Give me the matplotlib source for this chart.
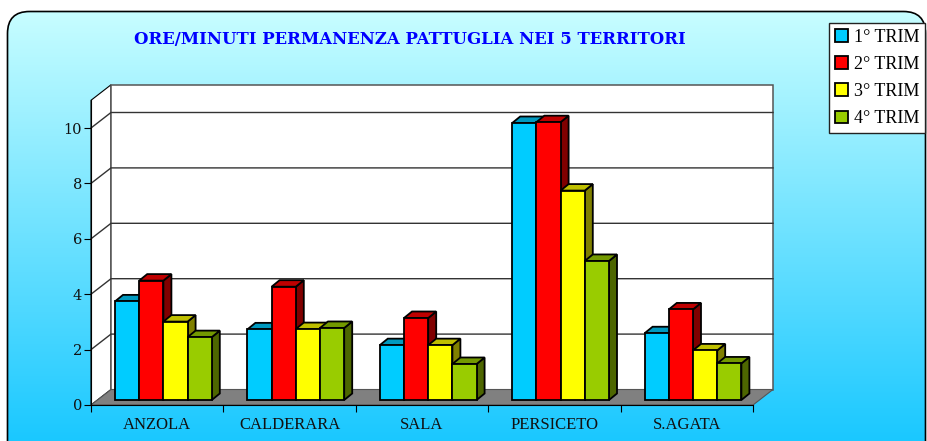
import matplotlib
matplotlib.use('Agg')
import matplotlib.pyplot as plt
import numpy as np
from matplotlib.colors import LinearSegmentedColormap
from matplotlib.patches import FancyBboxPatch, Polygon, Patch

categories = ['ANZOLA', 'CALDERARA', 'SALA', 'PERSICETO', 'S.AGATA']
trim_1 = [3.56, 2.55, 1.98, 10.0, 2.41]
trim_2 = [4.31, 4.09, 2.96, 10.03, 3.27]
trim_3 = [2.83, 2.56, 1.98, 7.56, 1.79]
trim_4 = [2.27, 2.6, 1.3, 5.02, 1.32]
series_names = ['1° TRIM', '2° TRIM', '3° TRIM', '4° TRIM']
y_ticks = [0, 2, 4, 6, 8, 10]

colors = ['#00ccff', '#ff0000', '#ffff00', '#99cc00']
tops = ['#0099bf', '#bf0000', '#bfbf00', '#739900']
sides = ['#006680', '#800000', '#808000', '#4d6600']

# depth of the fake 3d, in data units
WALL_DX = 20 / 132.4
WALL_DY = 15.5 / 27.7
BAR_DX = 8 / 132.4
BAR_DY = 6.5 / 27.7
BAR_W = 24.2 / 132.4
BAR_X0 = 24 / 132.4
BASE_DY = 5 / 27.7
Y_MAX = 11

serif = 'Liberation Serif'


def draw_background(fig):
    bg = fig.add_axes([0, 0, 1, 1], zorder=0)
    bg.set_xlim(0, 927)
    bg.set_ylim(441, 0)
    bg.axis('off')
    cmap = LinearSegmentedColormap.from_list('bg', ['#ccffff', '#1ac8ff'])
    grad = np.linspace(0, 1, 256).reshape(-1, 1)
    img = bg.imshow(grad, cmap=cmap, extent=[0, 927, 441, 0], aspect='auto')
    box = FancyBboxPatch((29, 33), 875, 430,
                         boxstyle='round,pad=0,rounding_size=22',
                         mutation_scale=1, fc='none', ec='black', lw=1.2)
    box.set_boxstyle('round', pad=21.5, rounding_size=22)
    bg.add_patch(box)
    img.set_clip_path(box)


def draw_walls(ax):
    n = len(categories)
    ax.add_patch(Polygon([(0, 0), (WALL_DX, WALL_DY), (WALL_DX, Y_MAX + WALL_DY), (0, Y_MAX)],
                         fc='white', ec='black', lw=0.8, clip_on=False, zorder=1))
    ax.add_patch(Polygon([(WALL_DX, WALL_DY), (n + WALL_DX, WALL_DY),
                          (n + WALL_DX, Y_MAX + WALL_DY), (WALL_DX, Y_MAX + WALL_DY)],
                         fc='white', ec='#555555', lw=1.1, clip_on=False, zorder=1))
    ax.add_patch(Polygon([(0, 0), (n, 0), (n + WALL_DX, WALL_DY), (WALL_DX, WALL_DY)],
                         fc='#808080', ec='#555555', lw=0.8, clip_on=False, zorder=1))
    for v in y_ticks[1:]:
        ax.plot([0, WALL_DX, n + WALL_DX], [v, v + WALL_DY, v + WALL_DY], color='#333333',
                lw=1.0, clip_on=False, zorder=1.5)


def draw_bar(ax, x, v, i):
    y0 = BASE_DY
    x1 = x + BAR_W
    y1 = y0 + v
    kw = dict(ec='black', lw=1.3, clip_on=False, zorder=3, joinstyle='miter')
    ax.add_patch(Polygon([(x1, y0), (x1 + BAR_DX, y0 + BAR_DY), (x1 + BAR_DX, y1 + BAR_DY), (x1, y1)],
                         fc=sides[i], **kw))
    ax.add_patch(Polygon([(x, y1), (x1, y1), (x1 + BAR_DX, y1 + BAR_DY), (x + BAR_DX, y1 + BAR_DY)],
                         fc=tops[i], **kw))
    ax.add_patch(Polygon([(x, y0), (x1, y0), (x1, y1), (x, y1)], fc=colors[i], **kw))


fig = plt.figure(figsize=(9.27, 4.41), dpi=100, facecolor='white')
draw_background(fig)

ax = fig.add_axes([91 / 927, (441 - 405) / 441, 662 / 927, 304.7 / 441], zorder=2)
ax.patch.set_alpha(0)
ax.set_xlim(0, len(categories))
ax.set_ylim(0, Y_MAX)
for s in ['top', 'right']:
    ax.spines[s].set_visible(False)
ax.spines['left'].set_zorder(2)
ax.spines['bottom'].set_zorder(2)

draw_walls(ax)
for c in range(len(categories)):
    for i, vals in enumerate([trim_1, trim_2, trim_3, trim_4]):
        draw_bar(ax, c + BAR_X0 + i * BAR_W, vals[c], i)

ax.set_yticks(y_ticks)
ax.set_yticklabels([str(v) for v in y_ticks], family='DejaVu Serif', fontsize=10.5, color='#111111')
ax.set_xticks(range(len(categories) + 1))
ax.set_xticklabels([])
ax.tick_params(axis='both', length=5, width=0.8)
ax.tick_params(axis='y', pad=1.5)
for c, name in enumerate(categories):
    ax.annotate(name, (c + 0.5, 0), xytext=(0, -14.5), textcoords='offset points', ha='center',
                va='center', family=serif, fontsize=12, color='#111111')

fig.text(410 / 927, 1 - 39.5 / 441, 'ORE/MINUTI PERMANENZA PATTUGLIA NEI 5 TERRITORI', ha='center',
         va='center', family='DejaVu Serif', fontsize=11.9, fontweight='bold', color='#0000ff', zorder=5)

handles = [Patch(fc=colors[i], ec='black', lw=1.3) for i in range(4)]
leg = fig.legend(handles, series_names, loc='upper right', bbox_to_anchor=(925 / 927, 1 - 23 / 441),
                 prop={'family': serif, 'size': 13}, fancybox=False, framealpha=1, edgecolor='#222222',
                 handlelength=0.72, handleheight=0.72, handletextpad=0.3, labelspacing=0.56,
                 borderpad=0.33, borderaxespad=0)
leg.set_zorder(5)

fig.savefig('out.png', dpi=100)
